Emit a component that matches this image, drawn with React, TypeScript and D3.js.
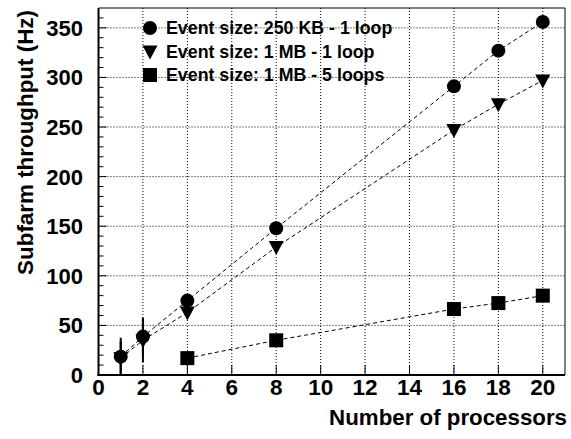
import React from "react";
import * as d3 from "d3";

// processors vs subfarm throughput (Hz)
const procsA = [1, 2, 4, 8, 16, 18, 20];
const rate250k = [18.5, 38.7, 75, 148, 291, 327, 356];
const err250k = [19, 19, 0, 0, 0, 0, 0];

const procsB = [1, 2, 4, 8, 16, 18, 20];
const rate1m = [17, 35, 63, 129, 247, 273, 297];
const err1m = [17, 22, 0, 0, 0, 0, 0];

const procsC = [4, 8, 16, 18, 20];
const rate1m5 = [17, 35, 66.5, 72.5, 80];

const xTicks = [0, 2, 4, 6, 8, 10, 12, 14, 16, 18, 20];
const yTicks = [0, 50, 100, 150, 200, 250, 300, 350];
const legendLabels = [
  "Event size: 250 KB - 1 loop",
  "Event size: 1 MB - 1 loop",
  "Event size: 1 MB - 5 loops",
];

const W = 571, H = 439;
const left = 98.5, right = 565, top = 8, bottom = 375;
const font = "'Liberation Sans', Arial, Helvetica, sans-serif";

function Marker({ kind, cx, cy }: { kind: string; cx: number; cy: number }) {
  if (kind === "circle") return <circle cx={cx} cy={cy} r={7} fill="black" />;
  if (kind === "square") return <rect x={cx - 7} y={cy - 7} width={14} height={14} fill="black" />;
  const p = d3.path();
  p.moveTo(cx - 7.5, cy - 6);
  p.lineTo(cx + 7.5, cy - 6);
  p.lineTo(cx, cy + 8);
  p.closePath();
  return <path d={p.toString()} fill="black" />;
}

export default function App() {
  const x = d3.scaleLinear().domain([0, 21]).range([left, right]);
  const y = d3.scaleLinear().domain([0, 370]).range([bottom, top]);
  const minorY = d3.range(10, 370, 10).filter(v => v % 50 !== 0);

  const series = [
    { xs: procsA, ys: rate250k, errs: err250k, kind: "circle" },
    { xs: procsB, ys: rate1m, errs: err1m, kind: "triangle" },
    { xs: procsC, ys: rate1m5, errs: procsC.map(() => 0), kind: "square" },
  ];
  const line = d3.line<[number, number]>().x(d => x(d[0])).y(d => y(d[1]));

  return (
    <svg width={W} height={H} style={{ position: "absolute", left: 0, top: 0, background: "white" }}
      fontFamily={font} fontWeight="bold">
      <rect width={W} height={H} fill="white" />
      <defs>
        <clipPath id="frame">
          <rect x={left} y={top} width={right - left} height={bottom - top} />
        </clipPath>
      </defs>

      {/* grid */}
      {xTicks.filter(t => t > 0).map(t => (
        <line key={"gx" + t} x1={x(t)} x2={x(t)} y1={top} y2={bottom} stroke="black" strokeWidth={1} strokeDasharray="1 2" />
      ))}
      {yTicks.filter(t => t > 0).map(t => (
        <line key={"gy" + t} x1={left} x2={right} y1={y(t)} y2={y(t)} stroke="black" strokeWidth={1} strokeDasharray="1 2" />
      ))}

      {/* data */}
      <g clipPath="url(#frame)">
        {series.map((s, i) => (
          <g key={i}>
            <path d={line(s.xs.map((v, j) => [v, s.ys[j]]) as [number, number][]) || ""}
              fill="none" stroke="black" strokeWidth={1} strokeDasharray="4 3" />
            {s.xs.map((v, j) => s.errs[j] > 0 ? (
              <line key={"e" + j} x1={x(v)} x2={x(v)} y1={y(s.ys[j] - s.errs[j])} y2={y(s.ys[j] + s.errs[j])}
                stroke="black" strokeWidth={2} />
            ) : null)}
            {s.xs.map((v, j) => <Marker key={j} kind={s.kind} cx={x(v)} cy={y(s.ys[j])} />)}
          </g>
        ))}
      </g>

      {/* frame */}
      <line x1={left} x2={right} y1={top} y2={top} stroke="black" strokeWidth={1} />
      <line x1={right} x2={right} y1={top} y2={bottom} stroke="black" strokeWidth={1} />
      <line x1={left} x2={left} y1={top} y2={bottom + 1} stroke="black" strokeWidth={2} />
      <line x1={left - 1} x2={right} y1={bottom} y2={bottom} stroke="black" strokeWidth={2} />

      {/* ticks */}
      {yTicks.map(t => (
        <g key={"ty" + t}>
          <line x1={left} x2={left + 8} y1={y(t)} y2={y(t)} stroke="black" strokeWidth={1} />
          <text x={83} y={y(t)} dy="0.36em" textAnchor="end" fontSize={22}>{t}</text>
        </g>
      ))}
      {minorY.map(t => (
        <line key={"my" + t} x1={left} x2={left + 5} y1={y(t)} y2={y(t)} stroke="black" strokeWidth={1} />
      ))}
      {xTicks.map(t => (
        <g key={"tx" + t}>
          <line x1={x(t)} x2={x(t)} y1={bottom} y2={bottom - 10} stroke="black" strokeWidth={1} />
          <text x={x(t)} y={395} textAnchor="middle" fontSize={22.5}>{t}</text>
        </g>
      ))}

      {/* axis titles */}
      <text x={567} y={425} textAnchor="end" fontSize={22.3}>Number of processors</text>
      <text transform="translate(33,10) rotate(-90)" textAnchor="end" fontSize={22.4}>Subfarm throughput (Hz)</text>

      {/* legend */}
      {legendLabels.map((l, i) => {
        const ly = 28 + i * 23.5;
        return (
          <g key={l}>
            <Marker kind={series[i].kind} cx={150} cy={ly} />
            <text x={166} y={ly} dy="0.36em" fontSize={17.8}>{l}</text>
          </g>
        );
      })}
    </svg>
  );
}
